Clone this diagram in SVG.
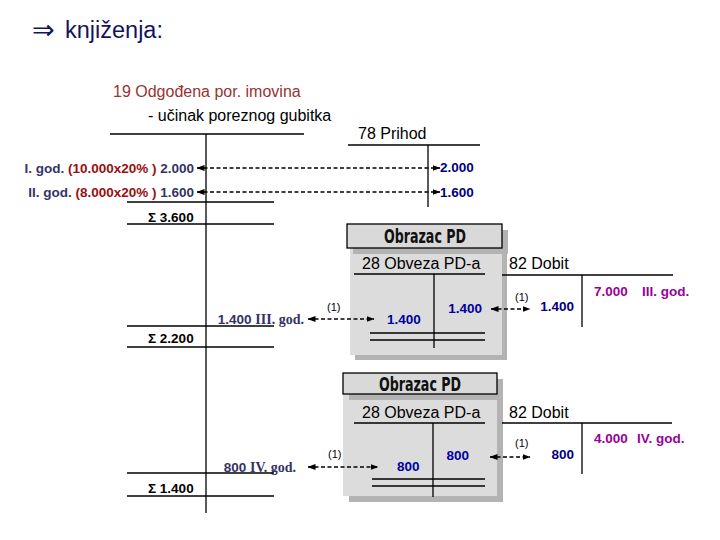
<svg xmlns="http://www.w3.org/2000/svg" width="720" height="540" viewBox="0 0 720 540">
<defs>
<marker id="ah" viewBox="0 0 8 6" refX="7.5" refY="3" markerWidth="8" markerHeight="6" markerUnits="userSpaceOnUse" orient="auto-start-reverse">
<path d="M0,0 L8,3 L0,6 Z" fill="#000"/>
</marker>
<style>
.ln{stroke:#000;stroke-width:1.3;fill:none}
.dash{stroke:#000;stroke-width:1.6;fill:none;stroke-dasharray:4 2.5;marker-start:url(#ah);marker-end:url(#ah)}
.reg{font-family:"Liberation Sans",Arial,sans-serif;font-size:16px;fill:#000}
.b{font-family:"Liberation Sans",Arial,sans-serif;font-size:13.5px;font-weight:bold}
.ser{font-family:"Liberation Serif","Times New Roman",serif;font-size:14px;font-weight:bold;fill:#333366}
.nv{fill:#000080}
.gn{fill:#333366}
.rd{fill:#9a1010}
.pu{fill:#990099}
.sm{font-family:"Liberation Sans",Arial,sans-serif;font-size:11px;fill:#000}
.hdr{font-family:"DejaVu Sans Condensed","Liberation Sans Narrow","Liberation Sans",sans-serif;font-size:20px;font-weight:bold;fill:#111}
.shadow{fill:#b3b3b3}
.body{fill:#dcdcdc}
.hbox{fill:#d9d9d9;stroke:#000;stroke-width:1.3}
</style>
</defs>
<rect width="720" height="540" fill="#fff"/>

<g id="title">
<text x="32" y="39" font-family="'DejaVu Sans','Liberation Sans',sans-serif" font-size="27" fill="#14145a">⇒</text>
<text x="65" y="38" font-family="'Liberation Sans',Arial,sans-serif" font-size="23.5" fill="#14145a">knjiženja:</text>
</g>

<g id="account-19">
<text class="reg" x="113" y="97" style="fill:#993333">19 Odgođena por. imovina</text>
<text class="reg" x="148" y="121">- učinak poreznog gubitka</text>
<line class="ln" x1="110" y1="134" x2="304" y2="134"/>
<line class="ln" x1="206" y1="134" x2="206" y2="513"/>
<text class="b" x="194" y="173" text-anchor="end"><tspan class="gn">I. god. </tspan><tspan class="rd">(10.000x20% ) </tspan><tspan class="gn">2.000</tspan></text>
<text class="b" x="194" y="197" text-anchor="end"><tspan class="gn">II. god. </tspan><tspan class="rd">(8.000x20% ) </tspan><tspan class="gn">1.600</tspan></text>
<line class="ln" x1="127" y1="202" x2="274" y2="202"/>
<text class="b" x="148" y="222">Σ 3.600</text>
<line class="ln" x1="127" y1="224" x2="274" y2="224"/>
<text x="304" y="324" text-anchor="end"><tspan class="b gn">1.400 </tspan><tspan class="ser">III. god.</tspan></text>
<line class="ln" x1="127" y1="326" x2="274" y2="326"/>
<text class="b" x="148" y="343">Σ 2.200</text>
<line class="ln" x1="127" y1="347" x2="274" y2="347"/>
<text x="296" y="472" text-anchor="end"><tspan class="b gn">800 </tspan><tspan class="ser">IV. god.</tspan></text>
<line class="ln" x1="127" y1="473" x2="274" y2="473"/>
<text class="b" x="148" y="493">Σ 1.400</text>
<line class="ln" x1="127" y1="496" x2="274" y2="496"/>
</g>

<g id="account-78">
<text class="reg" x="358" y="139">78 Prihod</text>
<line class="ln" x1="348" y1="145" x2="480" y2="145"/>
<line class="ln" x1="428" y1="145" x2="428" y2="207"/>
<text class="b nv" x="440" y="172">2.000</text>
<text class="b nv" x="440" y="197">1.600</text>
</g>

<g id="panel-1">
<rect class="shadow" x="355" y="253" width="152" height="107"/>
<rect class="body" x="350" y="248" width="152" height="107"/>
<rect class="shadow" x="353" y="230" width="155" height="24"/>
<rect class="hbox" x="347" y="224" width="155" height="24"/>
<text class="hdr" x="425" y="243" text-anchor="middle" textLength="82" lengthAdjust="spacingAndGlyphs">Obrazac PD</text>
<text class="reg" x="362" y="269">28 Obveza PD-a</text>
<line class="ln" x1="354" y1="274" x2="485" y2="274"/>
<line class="ln" x1="434" y1="274" x2="434" y2="348"/>
<line class="ln" x1="370" y1="333" x2="485" y2="333"/>
<line class="ln" x1="370" y1="340" x2="485" y2="340"/>
<text class="b" x="387" y="324" fill="#0000a0">1.400</text>
<text class="b" x="482" y="313" text-anchor="end" fill="#0000a0">1.400</text>
</g>

<g id="dobit-1">
<text class="reg" x="509" y="269">82 Dobit</text>
<line class="ln" x1="502" y1="275" x2="673" y2="275"/>
<line class="ln" x1="582" y1="275" x2="582" y2="327"/>
<text class="b nv" x="574" y="311" text-anchor="end">1.400</text>
<text class="b pu" x="594" y="296">7.000</text>
<text class="b pu" x="642" y="296">III. god.</text>
</g>

<g id="panel-2">
<rect class="shadow" x="349" y="400" width="154" height="102"/>
<rect class="body" x="343" y="394" width="154" height="102"/>
<rect class="shadow" x="349" y="379" width="154" height="21"/>
<rect class="hbox" x="343" y="373" width="154" height="21"/>
<text class="hdr" x="420" y="391" text-anchor="middle" textLength="82" lengthAdjust="spacingAndGlyphs">Obrazac PD</text>
<text class="reg" x="362" y="418">28 Obveza PD-a</text>
<line class="ln" x1="354" y1="423" x2="485" y2="423"/>
<line class="ln" x1="433" y1="423" x2="433" y2="497"/>
<line class="ln" x1="372" y1="479" x2="485" y2="479"/>
<line class="ln" x1="372" y1="486" x2="485" y2="486"/>
<text class="b" x="397" y="471" fill="#0000a0">800</text>
<text class="b" x="469" y="460" text-anchor="end" fill="#0000a0">800</text>
</g>

<g id="dobit-2">
<text class="reg" x="509" y="418">82 Dobit</text>
<line class="ln" x1="502" y1="423" x2="672" y2="423"/>
<line class="ln" x1="582" y1="423" x2="582" y2="474"/>
<text class="b nv" x="574" y="459" text-anchor="end">800</text>
<text class="b pu" x="594" y="443">4.000</text>
<text class="b pu" x="637" y="443">IV. god.</text>
</g>

<g id="connectors">
<line class="dash" x1="197" y1="168" x2="440" y2="168"/>
<line class="dash" x1="197" y1="192" x2="440" y2="192"/>
<line class="dash" x1="308" y1="319" x2="374" y2="319"/>
<line class="dash" x1="491" y1="309" x2="530" y2="309"/>
<line class="dash" x1="308" y1="467" x2="378" y2="467"/>
<line class="dash" x1="490" y1="457" x2="530" y2="457"/>
<text class="sm" x="327" y="311">(1)</text>
<text class="sm" x="515" y="301">(1)</text>
<text class="sm" x="328" y="458">(1)</text>
<text class="sm" x="515" y="447">(1)</text>
</g>
</svg>
